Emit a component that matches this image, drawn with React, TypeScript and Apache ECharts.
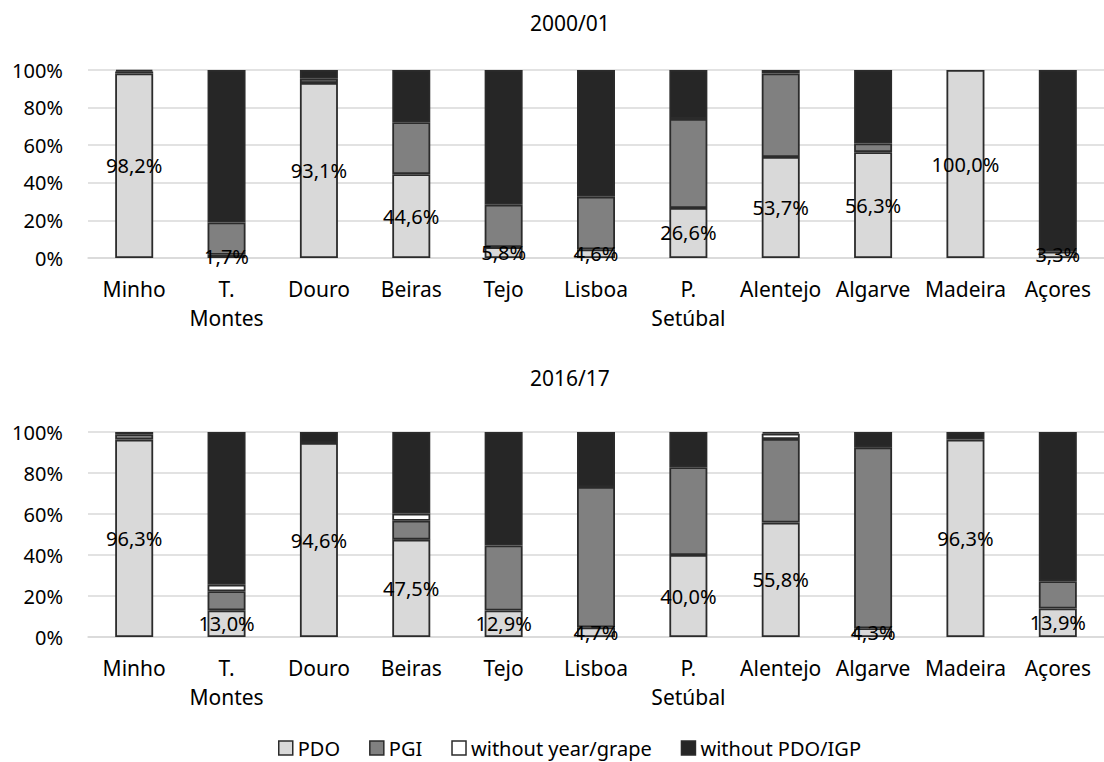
import React, { useEffect, useRef } from "react";
import * as echarts from "echarts";

const categories = ["Minho", "T.\nMontes", "Douro", "Beiras", "Tejo", "Lisboa", "P.\nSetúbal", "Alentejo", "Algarve", "Madeira", "Açores"];
const seriesNames = ["PDO", "PGI", "without year/grape", "without PDO/IGP"];
const titles = ["2000/01", "2016/17"];
const yTicks = [0, 20, 40, 60, 80, 100];

const pdo00 = [98.2, 1.7, 93.1, 44.6, 5.8, 4.6, 26.6, 53.7, 56.3, 100.0, 3.3];
const pgi00 = [1.0, 17.2, 2.3, 27.6, 22.5, 28.0, 47.4, 44.5, 4.6, 0, 0];
const noYear00 = [0, 0, 0, 0, 0, 0, 0, 0, 0, 0, 0];
const noPdo00 = [0.8, 81.1, 4.6, 27.8, 71.7, 67.4, 26.0, 1.8, 39.1, 0, 96.7];

const pdo16 = [96.3, 13.0, 94.6, 47.5, 12.9, 4.7, 40.0, 55.8, 4.3, 96.3, 13.9];
const pgi16 = [2.6, 9.3, 0, 9.2, 31.7, 68.5, 42.8, 40.8, 88.2, 0, 13.3];
const noYear16 = [0, 3.2, 0, 3.5, 0, 0, 0, 2.6, 0, 0, 0];
const noPdo16 = [1.1, 74.5, 5.4, 39.8, 55.4, 26.8, 17.2, 0.8, 7.5, 3.7, 72.8];

const colors = ["#d9d9d9", "#808080", "#ffffff", "#262626"];
const FONT = "Noto Sans";

export default function App() {
  const ref = useRef<HTMLDivElement>(null);
  useEffect(() => {
    document.body.style.margin = "0";
    const chart = echarts.init(ref.current!, null, { renderer: "svg" });
    const groups = [
      [pdo00, pgi00, noYear00, noPdo00],
      [pdo16, pgi16, noYear16, noPdo16],
    ];
    const grids = [
      { left: 88, top: 70, width: 1029, height: 188 },
      { left: 88, top: 432, width: 1029, height: 205 },
    ];
    const series: any[] = [];
    groups.forEach((g, gi) => {
      g.forEach((arr, si) => {
        series.push({
          name: seriesNames[si],
          type: "bar",
          stack: "s" + gi,
          xAxisIndex: gi,
          yAxisIndex: gi,
          barWidth: 38,
          data: arr.map((v) => (v === 0 ? "-" : v)),
          itemStyle: { color: colors[si], borderColor: "#2b2b2b", borderWidth: 1.8 },
          label:
            si === 0
              ? {
                  show: true,
                  position: "inside",
                  fontFamily: FONT,
                  fontSize: 20,
                  color: "#000",
                  formatter: (p: any) => Number(p.value).toFixed(1).replace(".", ",") + "%",
                }
              : { show: false },
        });
      });
    });
    const option: any = {
      animation: false,
      backgroundColor: "#ffffff",
      textStyle: { fontFamily: FONT },
      title: [
        { text: titles[0], left: 530, top: 12, padding: 0, textStyle: { fontFamily: FONT, fontSize: 21, fontWeight: "normal", color: "#000" } },
        { text: titles[1], left: 530, top: 367, padding: 0, textStyle: { fontFamily: FONT, fontSize: 21, fontWeight: "normal", color: "#000" } },
      ],
      legend: {
        data: seriesNames,
        left: 278,
        top: 738,
        padding: 0,
        itemWidth: 14,
        itemHeight: 14,
        itemGap: 29,
        icon: "rect",
        itemStyle: { borderColor: "#2b2b2b", borderWidth: 1.5 },
        textStyle: { fontFamily: FONT, fontSize: 20, color: "#000" },
      },
      grid: grids,
      xAxis: grids.map((_, gi) => ({
        type: "category",
        gridIndex: gi,
        data: categories,
        axisLine: { show: true, lineStyle: { color: "#d9d9d9", width: 1.5 } },
        axisTick: { show: false },
        axisLabel: { interval: 0, fontFamily: FONT, fontSize: 21, color: "#000", margin: 16, lineHeight: 29 },
      })),
      yAxis: grids.map((_, gi) => ({
        type: "value",
        gridIndex: gi,
        min: yTicks[0],
        max: yTicks[yTicks.length - 1],
        interval: 20,
        axisLine: { show: false },
        axisTick: { show: false },
        splitLine: { lineStyle: { color: "#d9d9d9", width: 1.5 } },
        axisLabel: { fontFamily: FONT, fontSize: 20, color: "#000", margin: 25, formatter: "{value}%" },
      })),
      series,
    };
    chart.setOption(option);
    return () => chart.dispose();
  }, []);
  return <div ref={ref} style={{ position: "fixed", left: 0, top: 0, width: 1104, height: 762, overflow: "hidden" }} />;
}
